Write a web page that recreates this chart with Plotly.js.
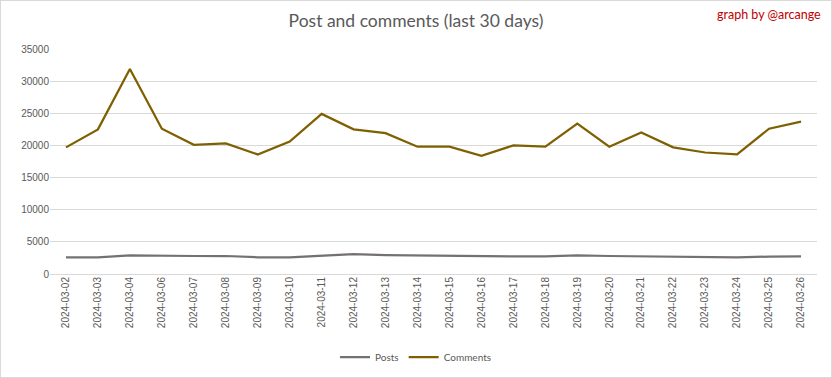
<!DOCTYPE html>
<html>
<head>
<meta charset="utf-8">
<script src="https://cdn.plot.ly/plotly-3.0.1.min.js"></script>
<style>
body{margin:0;padding:0;background:#fff;}
#wrap{position:relative;width:832px;height:378px;}
#chart{width:832px;height:378px;}
#frame{position:absolute;left:0;top:0;width:830px;height:376px;border:1px solid #d9d9d9;pointer-events:none;}
</style>
</head>
<body>
<div id="wrap"><div id="chart"></div><div id="frame"></div></div>
<script>
const dates = ["2024-03-02","2024-03-03","2024-03-04","2024-03-06","2024-03-07","2024-03-08","2024-03-09","2024-03-10","2024-03-11","2024-03-12","2024-03-13","2024-03-14","2024-03-15","2024-03-16","2024-03-17","2024-03-18","2024-03-19","2024-03-20","2024-03-21","2024-03-22","2024-03-23","2024-03-24","2024-03-25","2024-03-26"];
const posts = [2600,2600,2900,2800,2800,2800,2600,2600,2900,3100,2950,2900,2750,2750,2750,2750,2900,2800,2750,2750,2600,2600,2700,2750];
const comments = [19700,22500,31900,22600,20100,20300,18600,20600,24900,22500,21900,19800,19800,18400,20000,19800,23400,19800,22000,19700,18900,18600,22600,23700];
const yTicks = [0,5000,10000,15000,20000,25000,30000,35000];

const traces = [
  {x: dates, y: posts, name: "Posts", type: "scatter", mode: "lines",
   line: {color: "#767171", width: 2.25}},
  {x: dates, y: comments, name: "Comments", type: "scatter", mode: "lines",
   line: {color: "#7f6000", width: 2.25}}
];
const layout = {
  width: 832, height: 378,
  margin: {l: 50, r: 15, t: 49, b: 104},
  paper_bgcolor: "#fff", plot_bgcolor: "#fff",
  font: {family: "Liberation Sans, Arial, sans-serif", color: "#595959", size: 10},
  title: {text: "Post and comments (last 30 days)", x: 0.5, xanchor: "center", y: 0.945, yanchor: "middle",
          font: {family: "Lato, Open Sans, sans-serif", size: 17.5, color: "#595959"}},
  xaxis: {type: "category", range: [-0.5, dates.length - 0.5], tickangle: -90, showgrid: false, zeroline: false,
          showline: false, ticks: "", tickfont: {size: 10, color: "#595959"}, fixedrange: true},
  yaxis: {range: [0, 35000], tickvals: yTicks, tickformat: "d", showgrid: true, gridcolor: "#d9d9d9",
          gridwidth: 1, zeroline: true, zerolinecolor: "#d9d9d9", zerolinewidth: 1, showline: false, ticks: "",
          tickfont: {size: 10, color: "#595959"}, fixedrange: true},
  showlegend: true,
  legend: {orientation: "h", x: 0.5, xanchor: "center", xref: "container", y: 0.055, yref: "container", yanchor: "middle",
           font: {family: "Lato, Open Sans, sans-serif", size: 10, color: "#595959"}},
  annotations: [{text: "graph by @arcange", xref: "paper", yref: "paper", x: 1.008, y: 1.155,
                 xanchor: "right", yanchor: "middle", showarrow: false,
                 font: {family: "Lato, Open Sans, sans-serif", size: 12.5, color: "#c00000"}}]
};
Plotly.newPlot("chart", traces, layout, {displayModeBar: false, staticPlot: true});
</script>
</body>
</html>
